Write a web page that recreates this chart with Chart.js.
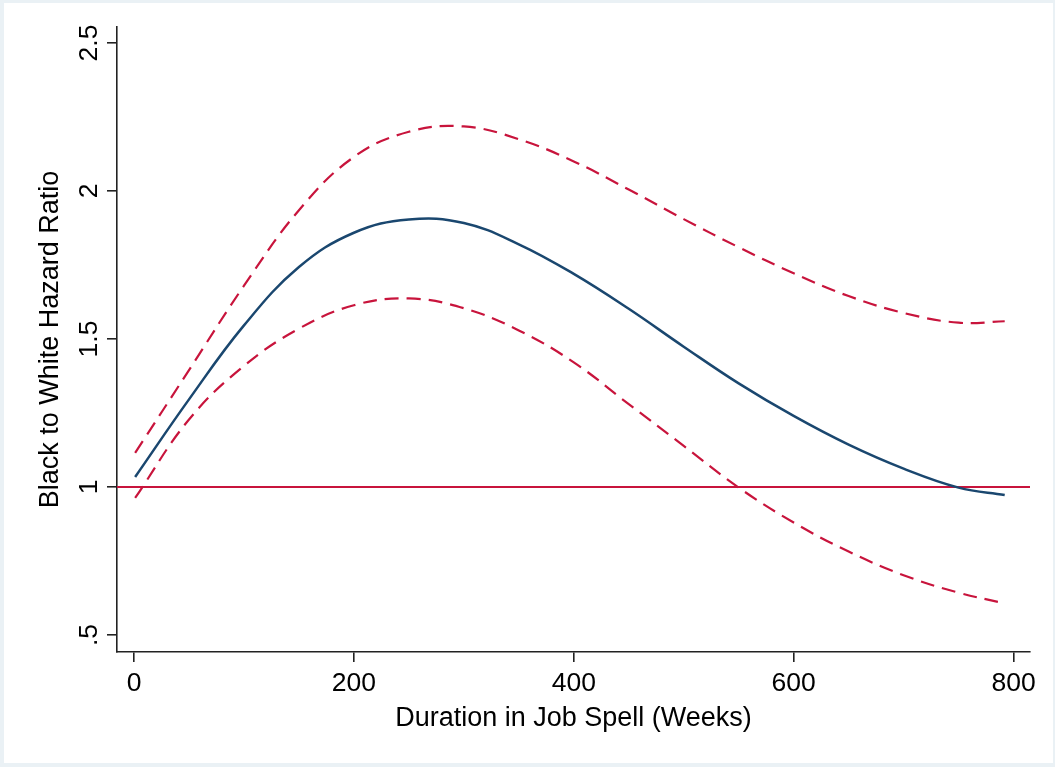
<!DOCTYPE html>
<html>
<head>
<meta charset="utf-8">
<script src="https://cdn.jsdelivr.net/npm/chart.js@4.4.1/dist/chart.umd.min.js"></script>
<style>
  html, body { margin: 0; padding: 0; }
  body { width: 1055px; height: 767px; background: #eaf1f5; position: relative; overflow: hidden; }
  #wrap { position: absolute; left: 4px; top: 3px; width: 1049px; height: 760px; background: #fff; }
</style>
</head>
<body>
<div id="wrap"><canvas id="hazard" width="1049" height="760"></canvas></div>
<script>
// weeks since start of the job spell
const weeks = [1, 50, 100, 150, 200, 250, 300, 350, 400, 450, 500, 550, 600, 650, 700, 750, 792];
// estimated black/white hazard ratio and its 95% band
const hazardRatio = [1.034, 1.296, 1.546, 1.743, 1.859, 1.904, 1.892, 1.820, 1.720, 1.602, 1.474, 1.350, 1.240, 1.143, 1.062, 0.998, 0.973];
const upperCI = [1.115, 1.395, 1.680, 1.935, 2.115, 2.200, 2.218, 2.175, 2.100, 2.005, 1.905, 1.810, 1.722, 1.645, 1.588, 1.555, 1.560];
const lowerCI = [0.963, 1.228, 1.409, 1.535, 1.614, 1.637, 1.604, 1.529, 1.421, 1.280, 1.139, 0.998, 0.880, 0.782, 0.702, 0.643, 0.607];

const xTicks = [0, 200, 400, 600, 800];
const yTicks = [0.5, 1, 1.5, 2, 2.5];
const yTickLabels = ['.5', '1', '1.5', '2', '2.5'];
const refLine = 1;

const xMin = -15.5, xMax = 815;
const yMin = 0.4426, yMax = 2.554;

const FONT = '"Liberation Sans", Arial, Helvetica, sans-serif';
const AXIS = '#222';
const NAVY = '#1a476f';
const RED = '#c8143c';

const pts = (ys) => weeks.map((w, i) => ({ x: w, y: ys[i] }));

// y tick labels are drawn turned, Stata style
const rotatedYLabels = {
  id: 'rotatedYLabels',
  afterDraw(chart) {
    const ys = chart.scales.y;
    const ctx = chart.ctx;
    ctx.save();
    ctx.fillStyle = '#000';
    ctx.font = '26.5px ' + FONT;
    ctx.textAlign = 'center';
    ctx.textBaseline = 'alphabetic';
    yTicks.forEach((v, i) => {
      ctx.save();
      ctx.translate(ys.right - 20, ys.getPixelForValue(v));
      ctx.rotate(-Math.PI / 2);
      ctx.fillText(yTickLabels[i], 0, 0);
      ctx.restore();
    });
    ctx.restore();
  }
};

const curve = {
  pointRadius: 0,
  tension: 0.4,
};

const data = {
  datasets: [
    Object.assign({
      label: 'Hazard ratio',
      data: pts(hazardRatio),
      borderColor: NAVY,
      borderWidth: 2.5,
    }, curve),
    Object.assign({
      label: 'Upper bound',
      data: pts(upperCI),
      borderColor: RED,
      borderWidth: 2.2,
      borderDash: [14, 8],
    }, curve),
    Object.assign({
      label: 'Lower bound',
      data: pts(lowerCI),
      borderColor: RED,
      borderWidth: 2.2,
      borderDash: [14, 8],
    }, curve),
    {
      label: 'Ratio = 1',
      data: [{ x: xMin, y: refLine }, { x: xMax, y: refLine }],
      borderColor: RED,
      borderWidth: 2,
      pointRadius: 0,
    },
  ]
};

const config = {
  type: 'line',
  data: data,
  options: {
    responsive: false,
    animation: false,
    layout: { padding: { top: 24, right: 23, left: 0, bottom: 0 } },
    plugins: {
      legend: { display: false },
      tooltip: { enabled: false },
    },
    scales: {
      x: {
        type: 'linear',
        min: xMin,
        max: xMax,
        afterBuildTicks: (s) => { s.ticks = xTicks.map(v => ({ value: v })); },
        afterFit: (s) => { s.height = 111; },
        border: { display: true, color: AXIS, width: 1.6 },
        grid: { drawOnChartArea: false, drawTicks: true, tickLength: 10, color: AXIS, lineWidth: 1.6 },
        ticks: { color: '#000', font: { family: FONT, size: 26.5 }, padding: 6, maxRotation: 0, autoSkip: false },
        title: {
          display: true,
          text: 'Duration in Job Spell (Weeks)',
          color: '#000',
          font: { family: FONT, size: 27 },
          padding: { top: 0, bottom: 28 },
        },
      },
      y: {
        type: 'linear',
        min: yMin,
        max: yMax,
        afterBuildTicks: (s) => { s.ticks = yTicks.map(v => ({ value: v })); },
        afterFit: (s) => { s.width = 113; },
        border: { display: true, color: AXIS, width: 1.6 },
        grid: { drawOnChartArea: false, drawTicks: true, tickLength: 10, color: AXIS, lineWidth: 1.6 },
        ticks: { display: false },
        title: {
          display: true,
          text: 'Black to White Hazard Ratio',
          color: '#000',
          font: { family: FONT, size: 27 },
          padding: { top: 30, bottom: 0 },
        },
      },
    },
  },
  plugins: [rotatedYLabels],
};

new Chart(document.getElementById('hazard'), config);
</script>
</body>
</html>
